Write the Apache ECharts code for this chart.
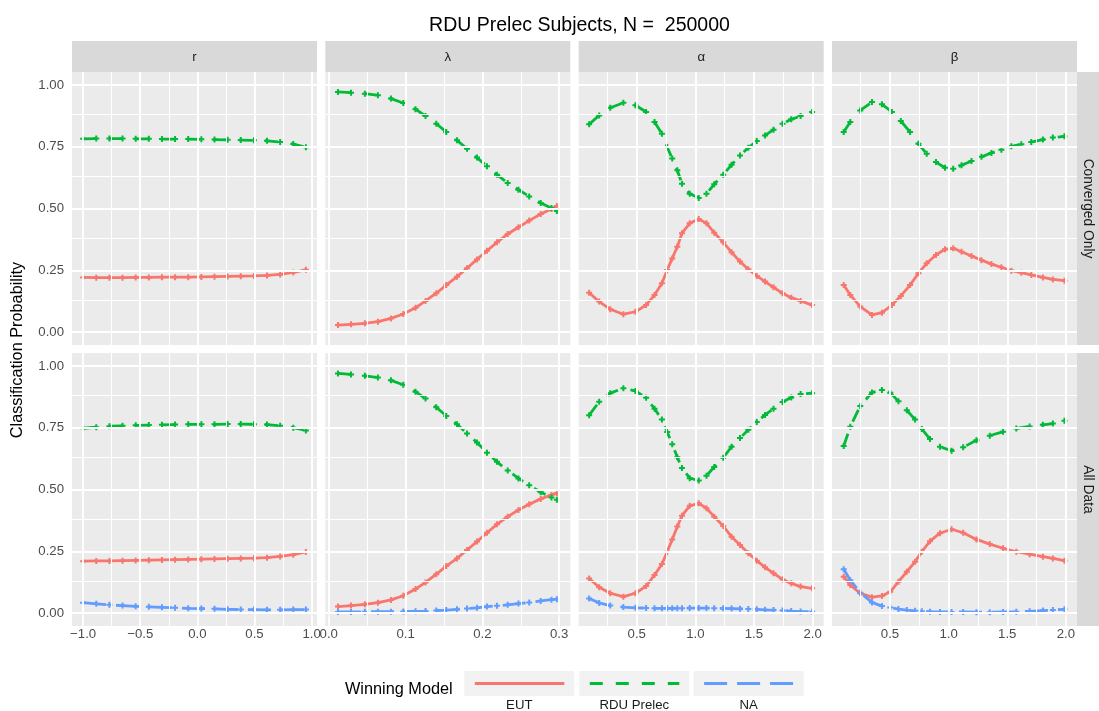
<!DOCTYPE html>
<html><head><meta charset="utf-8">
<script src="https://cdn.jsdelivr.net/npm/echarts@6/dist/echarts.min.js"></script>
<style>html,body{margin:0;padding:0;background:#fff}#c{width:1099px;height:711px}</style>
</head><body><div id="c"></div>
<script>
// ---------- data ----------
const colLabels = ['r', 'λ', 'α', 'β'];
const rowLabels = ['Converged Only', 'All Data'];
const modelNames = ['EUT', 'RDU Prelec', 'NA'];

const xR = [-1.0,-0.885,-0.77,-0.655,-0.54,-0.425,-0.31,-0.195,-0.08,0.035,0.15,0.265,0.38,0.495,0.61,0.725,0.84,0.95];
const eutR_conv = [0.221,0.220,0.220,0.220,0.221,0.221,0.222,0.222,0.222,0.223,0.224,0.225,0.226,0.227,0.229,0.233,0.241,0.252];
const rduR_conv = [0.782,0.783,0.783,0.783,0.782,0.782,0.781,0.781,0.781,0.780,0.779,0.778,0.777,0.776,0.774,0.769,0.761,0.748];
const eutR_all = [0.210,0.211,0.211,0.212,0.213,0.214,0.215,0.216,0.217,0.218,0.219,0.220,0.221,0.222,0.224,0.229,0.236,0.247];
const rduR_all = [0.748,0.752,0.756,0.758,0.760,0.761,0.762,0.763,0.764,0.764,0.764,0.765,0.765,0.764,0.763,0.758,0.750,0.739];
const naR_all  = [0.042,0.037,0.033,0.030,0.027,0.025,0.023,0.021,0.019,0.018,0.017,0.015,0.014,0.014,0.013,0.013,0.014,0.014];

const xL = [0.012,0.029,0.047,0.064,0.081,0.097,0.113,0.126,0.140,0.153,0.167,0.180,0.193,0.206,0.219,0.233,0.247,0.261,0.276,0.290,0.297];
const eutL_conv = [0.028,0.031,0.035,0.042,0.055,0.073,0.098,0.126,0.157,0.190,0.224,0.258,0.294,0.329,0.363,0.397,0.424,0.451,0.478,0.498,0.510];
const rduL_conv = [0.972,0.969,0.965,0.958,0.945,0.927,0.902,0.874,0.843,0.810,0.776,0.742,0.706,0.671,0.637,0.603,0.576,0.549,0.522,0.502,0.490];
const eutL_all = [0.026,0.030,0.035,0.042,0.053,0.070,0.097,0.124,0.157,0.190,0.221,0.255,0.289,0.325,0.359,0.390,0.417,0.440,0.462,0.478,0.485];
const rduL_all = [0.970,0.966,0.960,0.953,0.942,0.924,0.896,0.868,0.833,0.798,0.764,0.727,0.690,0.649,0.612,0.577,0.545,0.517,0.489,0.468,0.459];
const naL_all  = [0.004,0.004,0.005,0.005,0.005,0.006,0.007,0.008,0.010,0.012,0.015,0.018,0.021,0.026,0.029,0.033,0.038,0.043,0.049,0.054,0.056];

const xA = [0.094,0.180,0.274,0.386,0.489,0.580,0.652,0.715,0.760,0.803,0.846,0.886,0.952,1.029,1.095,1.161,1.238,1.309,1.381,1.452,1.524,1.595,1.667,1.744,1.818,1.898,1.996];
const eutA_conv = [0.159,0.123,0.092,0.072,0.082,0.109,0.150,0.197,0.251,0.298,0.345,0.400,0.440,0.457,0.440,0.402,0.363,0.323,0.285,0.254,0.227,0.204,0.181,0.157,0.139,0.126,0.109];
const rduA_conv = [0.841,0.877,0.908,0.928,0.918,0.891,0.850,0.803,0.749,0.702,0.655,0.600,0.560,0.543,0.560,0.598,0.637,0.677,0.715,0.746,0.773,0.796,0.819,0.843,0.861,0.874,0.891];
const eutA_all = [0.140,0.104,0.080,0.066,0.080,0.109,0.154,0.198,0.248,0.298,0.350,0.394,0.434,0.444,0.424,0.390,0.352,0.309,0.275,0.242,0.212,0.185,0.161,0.136,0.120,0.107,0.100];
const rduA_all = [0.801,0.855,0.890,0.910,0.899,0.871,0.827,0.783,0.733,0.683,0.631,0.587,0.546,0.536,0.556,0.591,0.629,0.673,0.708,0.742,0.773,0.802,0.827,0.854,0.872,0.887,0.890];
const naA_all  = [0.059,0.041,0.030,0.024,0.021,0.020,0.019,0.019,0.019,0.019,0.019,0.019,0.020,0.020,0.020,0.019,0.019,0.018,0.017,0.016,0.015,0.013,0.012,0.010,0.008,0.006,0.005];

const xB_conv = [0.105,0.161,0.246,0.346,0.431,0.516,0.592,0.671,0.742,0.813,0.892,0.969,1.039,1.110,1.195,1.280,1.365,1.450,1.535,1.620,1.705,1.804,1.889,1.988];
const eutB_conv = [0.190,0.150,0.103,0.069,0.078,0.109,0.146,0.190,0.238,0.278,0.312,0.335,0.339,0.325,0.308,0.291,0.275,0.262,0.248,0.240,0.231,0.221,0.213,0.208];
const rduB_conv = [0.810,0.850,0.897,0.931,0.922,0.891,0.854,0.810,0.762,0.722,0.688,0.665,0.661,0.675,0.692,0.709,0.725,0.738,0.752,0.760,0.769,0.779,0.787,0.792];
const xB_all = [0.105,0.161,0.246,0.346,0.431,0.502,0.572,0.643,0.714,0.771,0.841,0.926,1.025,1.124,1.237,1.351,1.464,1.577,1.691,1.804,1.889,1.988];
const eutB_all = [0.147,0.113,0.080,0.064,0.069,0.086,0.127,0.167,0.208,0.248,0.291,0.323,0.339,0.325,0.298,0.279,0.262,0.248,0.238,0.228,0.221,0.212];
const rduB_all = [0.676,0.754,0.838,0.893,0.903,0.892,0.857,0.821,0.783,0.745,0.704,0.673,0.657,0.671,0.699,0.718,0.734,0.747,0.755,0.762,0.767,0.778];
const naB_all  = [0.177,0.133,0.082,0.043,0.028,0.022,0.016,0.012,0.009,0.007,0.005,0.004,0.004,0.004,0.003,0.003,0.004,0.005,0.007,0.010,0.012,0.015];

const xTicks = [[-1,-0.5,0,0.5,1],[0,0.1,0.2,0.3],[0.5,1,1.5,2],[0.5,1,1.5,2]];
const xMinor = [[-0.75,-0.25,0.25,0.75],[0.05,0.15,0.25],[0.25,0.75,1.25,1.75],[0.25,0.75,1.25,1.75]];
const yTicks = [0,0.25,0.5,0.75,1];
const yMinor = [0.125,0.375,0.625,0.875];

// ---------- layout / style ----------
const FONT = '"Liberation Sans", Arial, Helvetica, sans-serif';
const COLORS = {'EUT':'#F8766D','RDU Prelec':'#00BA38','NA':'#619CFF'};
const DASH = {'EUT':'solid','RDU Prelec':[13,13],'NA':[23,10]};
const colLeft = [72,325.3,578.7,832], panelW = 245;
const rowTop = [72,353], panelH = 273;
const xLim = [[-1.0975,1.0475],[-0.0045,0.3145],[0.005,2.095],[0.005,2.095]];
const yLim = [-0.0526,1.0526];
const PLUS = 'path://M-1,-3H1V-1H3V1H1V3H-1V1H-3V-1H-1Z';
const SMALL = 13.2;

const panels = [
  {r:0,c:0,x:xR,s:[['EUT',eutR_conv],['RDU Prelec',rduR_conv]]},
  {r:0,c:1,x:xL,s:[['EUT',eutL_conv],['RDU Prelec',rduL_conv]]},
  {r:0,c:2,x:xA,s:[['EUT',eutA_conv],['RDU Prelec',rduA_conv]]},
  {r:0,c:3,x:xB_conv,s:[['EUT',eutB_conv],['RDU Prelec',rduB_conv]]},
  {r:1,c:0,x:xR,s:[['EUT',eutR_all],['RDU Prelec',rduR_all],['NA',naR_all]]},
  {r:1,c:1,x:xL,s:[['EUT',eutL_all],['RDU Prelec',rduL_all],['NA',naL_all]]},
  {r:1,c:2,x:xA,s:[['EUT',eutA_all],['RDU Prelec',rduA_all],['NA',naA_all]]},
  {r:1,c:3,x:xB_all,s:[['EUT',eutB_all],['RDU Prelec',rduB_all],['NA',naB_all]]}
];

function fmtX(v){
  const t = Math.abs(v).toFixed(1);
  return (v < -1e-9 ? '\u2212' : '') + t;
}

const grid=[], xAxis=[], yAxis=[], series=[], graphic=[];
panels.forEach((p,i)=>{
  grid.push({left:colLeft[p.c], top:rowTop[p.r], width:panelW, height:panelH,
    show:true, backgroundColor:'#EBEBEB', borderWidth:0, containLabel:false});
  const bottom = p.r===1, left = p.c===0;
  xAxis.push({type:'value', gridIndex:i, min:xLim[p.c][0], max:xLim[p.c][1],
    axisLine:{show:false}, splitLine:{show:false},
    axisTick:{show:bottom, customValues:xTicks[p.c], length:4, lineStyle:{color:'#333333', width:1.6}},
    axisLabel:{show:bottom, customValues:xTicks[p.c], formatter:fmtX, color:'#4D4D4D',
      fontSize:SMALL, fontFamily:FONT, margin:2, showMinLabel:true, showMaxLabel:true}});
  yAxis.push({type:'value', gridIndex:i, min:yLim[0], max:yLim[1],
    axisLine:{show:false}, splitLine:{show:false},
    axisTick:{show:left, customValues:yTicks, length:4, lineStyle:{color:'#333333', width:1.6}},
    axisLabel:{show:left, customValues:yTicks, formatter:v=>v.toFixed(2), color:'#4D4D4D',
      fontSize:SMALL, fontFamily:FONT, margin:8, showMinLabel:true, showMaxLabel:true}});
  // grid lines through the axis scales
  const ml = [];
  xMinor[p.c].forEach(v=>ml.push({xAxis:v, lineStyle:{width:1}}));
  yMinor.forEach(v=>ml.push({yAxis:v, lineStyle:{width:1}}));
  xTicks[p.c].forEach(v=>ml.push({xAxis:v, lineStyle:{width:1.9}}));
  yTicks.forEach(v=>ml.push({yAxis:v, lineStyle:{width:1.9}}));
  series.push({type:'line', xAxisIndex:i, yAxisIndex:i, data:[], silent:true, z:1,
    markLine:{silent:true, symbol:['none','none'], label:{show:false}, animation:false,
      lineStyle:{color:'#FFFFFF', type:'solid', opacity:1}, emphasis:{disabled:true}, data:ml}});
  p.s.forEach(([name, vals])=>{
    series.push({type:'line', name, xAxisIndex:i, yAxisIndex:i, z:3,
      data: p.x.map((x,k)=>[x, vals[k]]),
      symbol:PLUS, symbolSize:6, showSymbol:true,
      itemStyle:{color:COLORS[name]},
      lineStyle:{color:COLORS[name], width:2.8, type:DASH[name]},
      emphasis:{disabled:true}, animation:false});
  });
});

// strips
colLabels.forEach((lab,c)=>{
  graphic.push({type:'rect', shape:{x:colLeft[c], y:41, width:panelW, height:31}, style:{fill:'#D9D9D9'}, silent:true});
  graphic.push({type:'text', x:colLeft[c]+panelW/2, y:57, silent:true,
    style:{text:lab, fill:'#1A1A1A', font:SMALL+'px '+FONT, align:'center', verticalAlign:'middle'}});
});
rowLabels.forEach((lab,r)=>{
  graphic.push({type:'rect', shape:{x:1077, y:rowTop[r], width:22, height:panelH}, style:{fill:'#D9D9D9'}, silent:true});
  graphic.push({type:'text', x:1088, y:rowTop[r]+panelH/2, rotation:-Math.PI/2, silent:true,
    style:{text:lab, fill:'#1A1A1A', font:'13.8px '+FONT, align:'center', verticalAlign:'middle'}});
});
// y axis title
graphic.push({type:'text', x:18, y:350, rotation:Math.PI/2, silent:true,
  style:{text:'Classification Probability', fill:'#000', font:'16.3px '+FONT, align:'center', verticalAlign:'middle'}});
// legend
graphic.push({type:'text', x:345, y:690, silent:true,
  style:{text:'Winning Model', fill:'#000', font:'16.3px '+FONT, align:'left', verticalAlign:'middle'}});
const keyLeft = [464.3,579.3,693.6];
modelNames.forEach((m,k)=>{
  graphic.push({type:'rect', shape:{x:keyLeft[k], y:671, width:110, height:25}, style:{fill:'#F2F2F2'}, silent:true});
  graphic.push({type:'line', shape:{x1:keyLeft[k]+10.5, y1:683.5, x2:keyLeft[k]+100, y2:683.5}, silent:true,
    style:{stroke:COLORS[m], lineWidth:2.8, lineDash: DASH[m]==='solid'?null:DASH[m]}});
  graphic.push({type:'text', x:keyLeft[k]+55, y:705, silent:true,
    style:{text:m, fill:'#1A1A1A', font:SMALL+'px '+FONT, align:'center', verticalAlign:'middle'}});
});

const chart = echarts.init(document.getElementById('c'), null, {renderer:'canvas'});
chart.setOption({
  animation:false,
  backgroundColor:'#FFFFFF',
  title:{text:'RDU Prelec Subjects, N =  250000', left:574.5, top:11, textAlign:'center',
    textStyle:{fontFamily:FONT, fontSize:19.5, fontWeight:'normal', color:'#000'}},
  grid, xAxis, yAxis, series, graphic
});
</script></body></html>
